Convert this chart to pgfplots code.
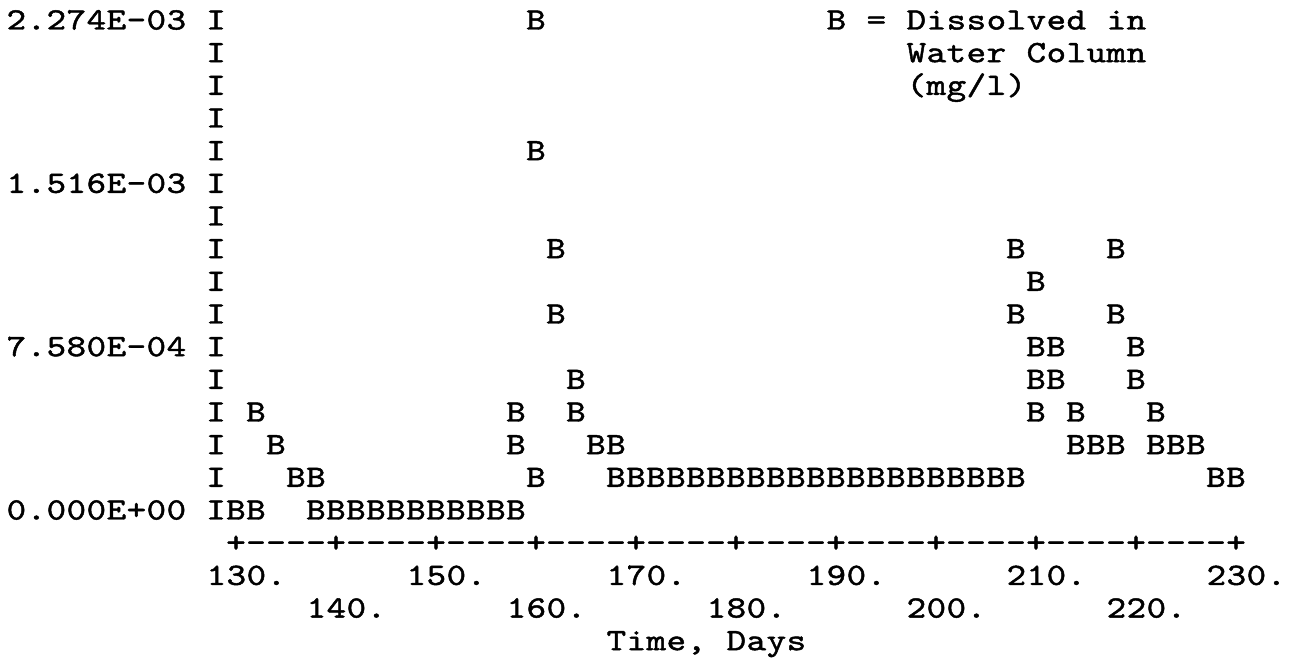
\documentclass[border=0pt]{standalone}
\usepackage{fontspec}
\usepackage{pgfplots}
\pgfplotsset{compat=1.18}
\usepackage{pgfplotstable}

\newfontfamily\lmtype{lmmono10-regular.otf}[FakeBold=1.5,FakeStretch=1.2]
\newcommand\pfont{\lmtype\fontsize{15.5}{15.5}\selectfont}
\def\mono#1{\mbox{\pfont\monoi#1\relax}}
\def\monoi#1{\ifx#1\relax\else\makebox[10pt]{#1}\expandafter\monoi\fi}

% B = Dissolved in Water Column (mg/l); one row per printed B
\pgfplotstableread{
day value
130 0
132 0
132 4.548e-4
134 3.032e-4
136 1.516e-4
138 1.516e-4
138 0
140 0
142 0
144 0
146 0
148 0
150 0
152 0
154 0
156 0
158 0
158 3.032e-4
158 4.548e-4
160 1.516e-4
160 1.6676e-3
160 2.274e-3
162 1.2128e-3
162 9.096e-4
164 6.064e-4
164 4.548e-4
166 3.032e-4
168 3.032e-4
168 1.516e-4
170 1.516e-4
172 1.516e-4
174 1.516e-4
176 1.516e-4
178 1.516e-4
180 1.516e-4
182 1.516e-4
184 1.516e-4
186 1.516e-4
188 1.516e-4
190 1.516e-4
192 1.516e-4
194 1.516e-4
196 1.516e-4
198 1.516e-4
200 1.516e-4
202 1.516e-4
204 1.516e-4
206 1.516e-4
208 1.516e-4
208 9.096e-4
208 1.2128e-3
210 4.548e-4
210 6.064e-4
210 7.58e-4
210 1.0612e-3
212 6.064e-4
212 7.58e-4
214 3.032e-4
214 4.548e-4
216 3.032e-4
218 3.032e-4
218 9.096e-4
218 1.2128e-3
220 6.064e-4
220 7.58e-4
222 3.032e-4
222 4.548e-4
224 3.032e-4
226 3.032e-4
228 1.516e-4
230 1.516e-4
}\dissolved

\begin{document}
\begin{tikzpicture}
\begin{axis}[
  scale only axis, width=647pt, height=329.5pt,
  xmin=106.4, xmax=235.8, ymin=-6.915e-4, ymax=2.3668e-3,
  axis line style={draw=none}, major tick length=0pt, tick style={draw=none},
  clip=false,
  scaled y ticks=false, scaled x ticks=false,
  ytick={0,7.58e-4,1.516e-3,2.274e-3},
  yticklabels={\mono{0.000E+00},\mono{7.580E-04},\mono{1.516E-03},\mono{2.274E-03}},
  yticklabel style={anchor=base west, xshift=3pt, yshift=-4.75pt, inner sep=0pt},
  xtick={130,150,170,190,210,230},
  xticklabels={\mono{130.},\mono{150.},\mono{170.},\mono{190.},\mono{210.},\mono{230.}},
  xticklabel style={anchor=base west, xshift=-15pt, yshift=37.05pt, inner sep=0pt},
  extra x ticks={140,160,180,200,220},
  extra x tick labels={\mono{140.},\mono{160.},\mono{180.},\mono{200.},\mono{220.}},
  extra x tick style={xticklabel style={yshift=-16.333pt}},
  xlabel={\mono{Time,~Days}},
  xlabel style={at={(axis cs:168,-6.064e-4)}, anchor=base west, xshift=-5pt, yshift=-4.75pt, inner sep=0pt},
  text mark as node=true,
  text mark style={font=\pfont, anchor=base, yshift=-4.75pt, inner sep=0pt},
]
% printed axis characters
\addplot[only marks, mark=text, text mark={I}] coordinates {
 (128,2.274e-3) (128,2.1224e-3) (128,1.9708e-3) (128,1.8192e-3) (128,1.6676e-3)
 (128,1.516e-3) (128,1.3644e-3) (128,1.2128e-3) (128,1.0612e-3) (128,9.096e-4)
 (128,7.58e-4) (128,6.064e-4) (128,4.548e-4) (128,3.032e-4) (128,1.516e-4) (128,0)};
\addplot[only marks, mark=text, text mark={+}] coordinates {
 (130,-1.516e-4) (140,-1.516e-4) (150,-1.516e-4) (160,-1.516e-4) (170,-1.516e-4) (180,-1.516e-4)
 (190,-1.516e-4) (200,-1.516e-4) (210,-1.516e-4) (220,-1.516e-4) (230,-1.516e-4)};
\addplot[only marks, mark=text, text mark={\textendash}] coordinates {
 (132,-1.516e-4) (134,-1.516e-4) (136,-1.516e-4) (138,-1.516e-4)
 (142,-1.516e-4) (144,-1.516e-4) (146,-1.516e-4) (148,-1.516e-4)
 (152,-1.516e-4) (154,-1.516e-4) (156,-1.516e-4) (158,-1.516e-4)
 (162,-1.516e-4) (164,-1.516e-4) (166,-1.516e-4) (168,-1.516e-4)
 (172,-1.516e-4) (174,-1.516e-4) (176,-1.516e-4) (178,-1.516e-4)
 (182,-1.516e-4) (184,-1.516e-4) (186,-1.516e-4) (188,-1.516e-4)
 (192,-1.516e-4) (194,-1.516e-4) (196,-1.516e-4) (198,-1.516e-4)
 (202,-1.516e-4) (204,-1.516e-4) (206,-1.516e-4) (208,-1.516e-4)
 (212,-1.516e-4) (214,-1.516e-4) (216,-1.516e-4) (218,-1.516e-4)
 (222,-1.516e-4) (224,-1.516e-4) (226,-1.516e-4) (228,-1.516e-4)};
% data
\addplot[only marks, mark=text, text mark={B}] table[x=day, y=value] {\dissolved};
% key
\node[anchor=base west, xshift=-5pt, yshift=-4.75pt, inner sep=0pt] at (axis cs:190,2.274e-3) {\mono{B~=~Dissolved~in}};
\node[anchor=base west, xshift=-5pt, yshift=-4.75pt, inner sep=0pt] at (axis cs:198,2.1224e-3) {\mono{Water~Column}};
\node[anchor=base west, xshift=-5pt, yshift=-4.75pt, inner sep=0pt] at (axis cs:198,1.9708e-3) {\mono{(mg/l)}};
\path (rel axis cs:0,0) rectangle (rel axis cs:1,1);
\end{axis}
\end{tikzpicture}
\end{document}
